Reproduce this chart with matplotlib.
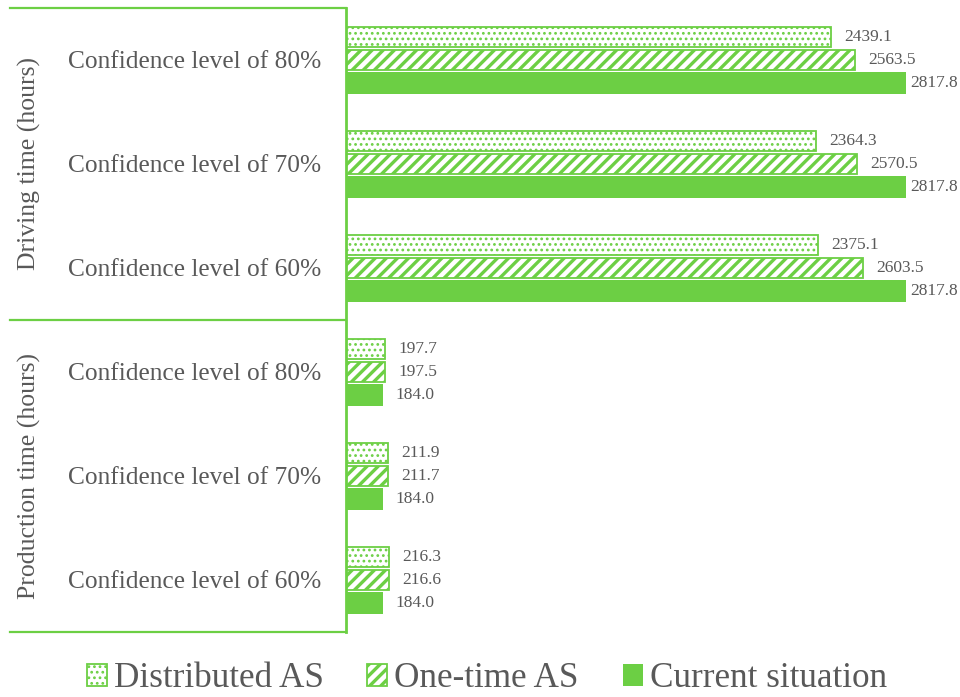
import numpy as np
import matplotlib
matplotlib.use("Agg")
import matplotlib.pyplot as plt

plt.rcParams['font.family'] = ['Liberation Serif', 'DejaVu Serif']

# categories from top to bottom
categories = ['Confidence level of 80%', 'Confidence level of 70%', 'Confidence level of 60%',
              'Confidence level of 80%', 'Confidence level of 70%', 'Confidence level of 60%']
groups = ['Driving time (hours)', 'Production time (hours)']

distributed = [2439.1, 2364.3, 2375.1, 197.7, 211.9, 216.3]
one_time = [2563.5, 2570.5, 2603.5, 197.5, 211.7, 216.6]
current = [2817.8, 2817.8, 2817.8, 184.0, 184.0, 184.0]

GREEN = '#6CCF44'
GREY = '#595959'

W, H = 960, 697
fig = plt.figure(figsize=(W / 100, H / 100), dpi=100)
ax_left, ax_right, ax_top, ax_bot = 346, 958, 8, 632
ax = fig.add_axes([ax_left / W, (H - ax_bot) / H, (ax_right - ax_left) / W, (ax_bot - ax_top) / H])

y = np.arange(len(categories))
pitch = 0.222
h = 0.2

series = [
    (distributed, -pitch, '...', 'Distributed AS', 1.2),
    (one_time, 0, '///', 'One-time AS', 2.4),
    (current, pitch, None, 'Current situation', 0),
]

containers = []
for vals, off, hatch, label, lw in series:
    if hatch:
        bars = ax.barh(y + off, vals, height=h, color='white', edgecolor=GREEN,
                       linewidth=1.3, hatch=hatch, label=label)
        for b in bars:
            b.set_hatch_linewidth(lw)
    else:
        bars = ax.barh(y + off, vals, height=h + 0.01, color=GREEN, linewidth=0, label=label)
    containers.append(bars)

px_per_unit = 560 / 2817.8
ax.set_xlim(0, (ax_right - ax_left) / px_per_unit)
ax.set_ylim(len(categories) - 0.5, -0.5)

ax.set_yticks(y)
ax.set_yticklabels(categories, fontsize=18.3, color=GREY)
ax.tick_params(axis='y', length=0, pad=18)
ax.set_xticks([])
for s in ['top', 'right', 'bottom']:
    ax.spines[s].set_visible(False)
ax.spines['left'].set_color(GREEN)
ax.spines['left'].set_linewidth(2)

# frame lines for the row headers
x0 = (10 - ax_left) / (ax_right - ax_left)
for yy in [1.0, 0.5, 0.0]:
    ax.plot([x0, 0], [yy, yy], color=GREEN, lw=1.6, transform=ax.transAxes, clip_on=False)

gx = (29 - ax_left) / (ax_right - ax_left)
ax.text(gx, 0.75, groups[0], rotation=90, ha='center', va='center', fontsize=18.5,
        color=GREY, transform=ax.transAxes)
ax.text(gx, 0.25, groups[1], rotation=90, ha='center', va='center', fontsize=18.5,
        color=GREY, transform=ax.transAxes)

# value labels, kept inside the plot area
labels = []
for (vals, off, *_rest) in series:
    for yi, v in zip(y, vals):
        t = ax.annotate(f'{v:.1f}', xy=(v, yi + off), xytext=(9.5, 0), textcoords='offset points',
                        ha='left', va='center', fontsize=12.5, color=GREY, annotation_clip=False)
        labels.append(t)

fig.canvas.draw()
r = fig.canvas.get_renderer()
right_px = ax.transAxes.transform((1, 0))[0]
for t in labels:
    bb = t.get_window_extent(r)
    if bb.x1 > right_px:
        ox, oy = t.xyann
        t.xyann = (ox - (bb.x1 - right_px) * 72 / fig.dpi, oy)

leg = fig.legend(handles=containers, loc='lower center', bbox_to_anchor=(0.507, -0.028), ncol=3,
                 frameon=False, fontsize=25.3, handlelength=0.57, handleheight=0.57,
                 handletextpad=0.2, columnspacing=1.25, borderpad=0.1, labelcolor=GREY)
for p, (_v, _o, hatch, _l, lw) in zip(leg.get_patches(), series):
    if hatch:
        p.set_hatch_linewidth(lw)

fig.savefig('out.png', dpi=100)
